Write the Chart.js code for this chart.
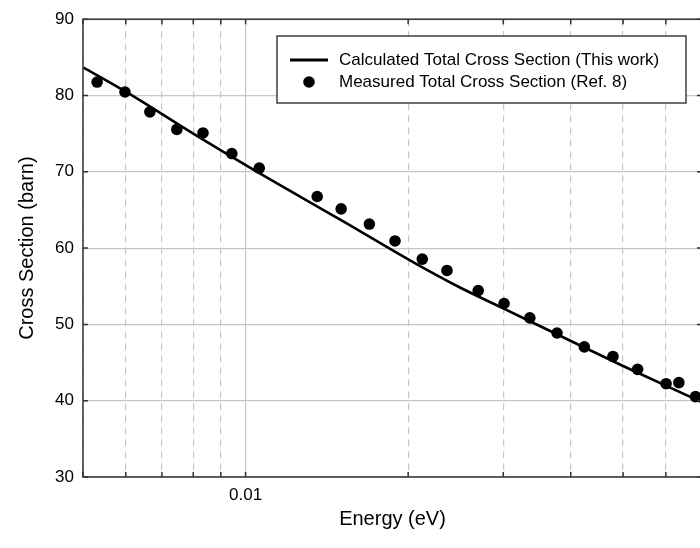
<!DOCTYPE html>
<html>
<head>
<meta charset="utf-8">
<script src="https://cdn.jsdelivr.net/npm/chart.js@4.4.0/dist/chart.umd.min.js"></script>
<style>
  html, body { margin: 0; padding: 0; background: #fff; overflow: hidden; }
  #wrap { width: 710px; height: 548px; }
</style>
</head>
<body>
<div id="wrap"><canvas id="xsChart" width="710" height="548"></canvas></div>
<script>
// energy in eV, cross section in barn
const calcEnergy = [0.005, 0.006, 0.008, 0.0103, 0.015, 0.0205, 0.025, 0.03, 0.0373, 0.05, 0.069, 0.07];
const calcSigma  = [83.7, 80.5, 75.0, 70.35, 63.7, 58.1, 54.8, 52.1, 48.87, 44.55, 40.0, 39.8];

const measEnergy = [0.00531, 0.00598, 0.00665, 0.00746, 0.00834, 0.00943, 0.0106, 0.01357,
  0.01503, 0.01695, 0.01891, 0.02124, 0.0236, 0.02696, 0.0301, 0.0336, 0.03773, 0.04239,
  0.04789, 0.05319, 0.06006, 0.06343, 0.06809];
const measSigma  = [81.76, 80.46, 77.86, 75.56, 75.09, 72.39, 70.48, 66.76,
  65.14, 63.15, 60.94, 58.56, 57.07, 54.43, 52.74, 50.85, 48.87, 47.05,
  45.8, 44.11, 42.23, 42.37, 40.54];

const xLabelled = [0.01];
const xRange = [0.005, 0.07];
const yRange = [30, 90];

const calcLabel = 'Calculated Total Cross Section (This work)';
const measLabel = 'Measured Total Cross Section (Ref. 8)';

const isLabelled = v => xLabelled.some(t => Math.abs(v - t) / t < 1e-6);
// keep only 1..9 x 10^n ticks
const isWholeDecadeStep = v => {
  const s = v / Math.pow(10, Math.floor(Math.log10(v) + 1e-9));
  return Math.abs(s - Math.round(s)) < 1e-6;
};

Chart.defaults.font.family = "'Liberation Sans', Arial, sans-serif";
Chart.defaults.color = '#000';

// frame, inward ticks and the boxed legend
const frameAndLegend = {
  id: 'frameAndLegend',
  afterDraw(chart) {
    const { ctx, chartArea: a, scales } = chart;
    ctx.save();
    ctx.strokeStyle = '#333';
    ctx.lineWidth = 1.5;
    ctx.strokeRect(a.left, a.top, a.right - a.left, a.bottom - a.top);

    ctx.beginPath();
    scales.x.ticks.forEach(t => {
      const px = scales.x.getPixelForValue(t.value);
      ctx.moveTo(px, a.bottom); ctx.lineTo(px, a.bottom - 5);
      ctx.moveTo(px, a.top); ctx.lineTo(px, a.top + 5);
    });
    scales.y.ticks.forEach(t => {
      const py = scales.y.getPixelForValue(t.value);
      ctx.moveTo(a.left, py); ctx.lineTo(a.left + 5, py);
      ctx.moveTo(a.right, py); ctx.lineTo(a.right - 5, py);
    });
    ctx.stroke();

    // legend box
    const bx = 277, by = 36, bw = 409, bh = 67;
    ctx.fillStyle = '#fff';
    ctx.fillRect(bx, by, bw, bh);
    ctx.strokeStyle = '#222';
    ctx.lineWidth = 1.3;
    ctx.strokeRect(bx, by, bw, bh);

    const ds = chart.data.datasets;
    ctx.strokeStyle = '#000';
    ctx.lineWidth = 3;
    ctx.beginPath();
    ctx.moveTo(290, 60); ctx.lineTo(328, 60);
    ctx.stroke();
    ctx.fillStyle = '#000';
    ctx.beginPath();
    ctx.arc(309, 82, 5.8, 0, Math.PI * 2);
    ctx.fill();

    ctx.font = "17px 'Liberation Sans', Arial, sans-serif";
    ctx.textBaseline = 'middle';
    ctx.textAlign = 'left';
    ctx.fillText(ds[1].label, 339, 60);
    ctx.fillText(ds[0].label, 339, 82);
    ctx.restore();
  }
};

new Chart(document.getElementById('xsChart'), {
  type: 'line',
  data: {
    datasets: [
      {
        label: measLabel,
        data: measEnergy.map((e, i) => ({ x: e, y: measSigma[i] })),
        showLine: false,
        pointRadius: 5.8,
        pointBorderWidth: 0,
        pointBackgroundColor: '#000',
        order: 0
      },
      {
        label: calcLabel,
        data: calcEnergy.map((e, i) => ({ x: e, y: calcSigma[i] })),
        borderColor: '#000',
        borderWidth: 2.6,
        pointRadius: 0,
        cubicInterpolationMode: 'monotone',
        order: 1
      }
    ]
  },
  options: {
    responsive: false,
    animation: false,
    layout: { padding: { left: 0, right: 7, top: 15, bottom: 0 } },
    plugins: { legend: { display: false }, tooltip: { enabled: false } },
    scales: {
      x: {
        type: 'logarithmic',
        min: xRange[0],
        max: xRange[1],
        afterBuildTicks(scale) {
          scale.ticks = scale.ticks.filter(t => isWholeDecadeStep(t.value));
        },
        afterFit(scale) { scale.height = 71; },
        grid: {
          drawTicks: false,
          color: '#c6c6c6',
          lineWidth: 1.2
        },
        border: {
          display: false,
          dash: c => (c.tick && !isLabelled(c.tick.value)) ? [7, 5] : []
        },
        ticks: {
          autoSkip: false,
          maxRotation: 0,
          padding: 8,
          font: { size: 17 },
          callback: v => isLabelled(v) ? String(v) : ''
        },
        title: {
          display: true,
          text: 'Energy (eV)',
          font: { size: 20 },
          padding: { top: 0, bottom: 17 }
        }
      },
      y: {
        min: yRange[0],
        max: yRange[1],
        afterFit(scale) { scale.width = 83; },
        grid: {
          drawTicks: false,
          color: '#c6c6c6',
          lineWidth: 1.2
        },
        border: { display: false },
        ticks: {
          stepSize: 10,
          padding: 9,
          font: { size: 17 }
        },
        title: {
          display: true,
          text: 'Cross Section (barn)',
          font: { size: 20 },
          padding: { top: 15, bottom: 0 }
        }
      }
    }
  },
  plugins: [frameAndLegend]
});
</script>
</body>
</html>
